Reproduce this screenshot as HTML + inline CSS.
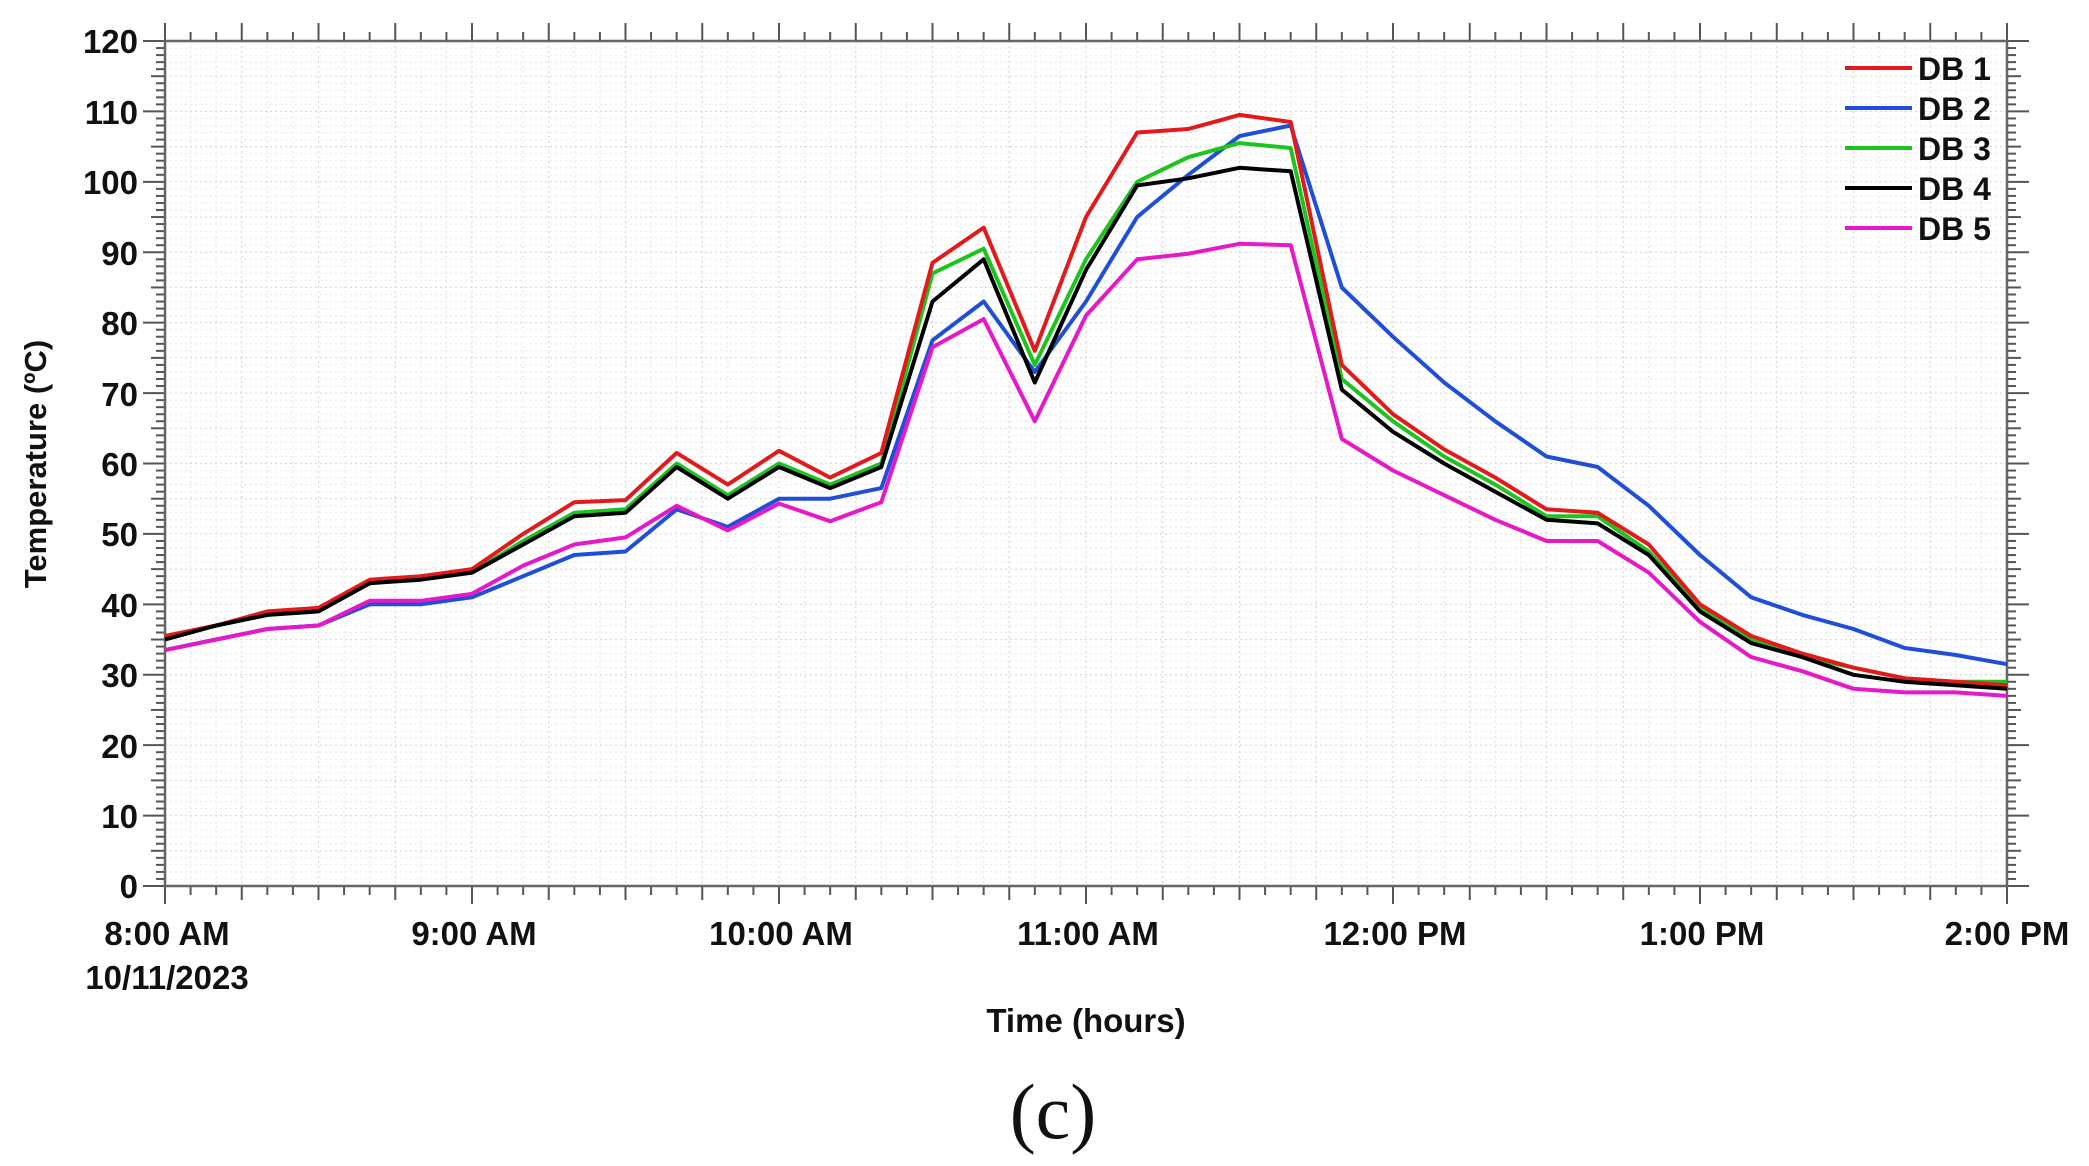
<!DOCTYPE html>
<html><head><meta charset="utf-8"><style>
html,body{margin:0;padding:0;background:#fff;}
svg{display:block;}
text{font-family:"Liberation Sans",Arial,sans-serif;font-weight:bold;fill:#111;}
</style></head><body>
<svg id="s" width="2089" height="1166" viewBox="0 0 2089 1166" xmlns="http://www.w3.org/2000/svg">
<rect width="2089" height="1166" fill="#fff"/>
<g id="grid"></g>
<g id="ticks" stroke="#555" stroke-width="2"></g>
<rect x="165" y="41" width="1842" height="845" fill="none" stroke="#666" stroke-width="2.5"/>
<g id="series" fill="none" stroke-width="4" stroke-linejoin="round"></g>
<g font-size="33" text-anchor="end">
<text x="138" y="53">120</text><text x="138" y="124">110</text><text x="138" y="194">100</text>
<text x="138" y="265">90</text><text x="138" y="335">80</text><text x="138" y="406">70</text>
<text x="138" y="476">60</text><text x="138" y="546">50</text><text x="138" y="617">40</text>
<text x="138" y="687">30</text><text x="138" y="758">20</text><text x="138" y="828">10</text>
<text x="138" y="898">0</text>
</g>
<g font-size="33" text-anchor="middle">
<text x="167" y="945">8:00 AM</text>
<text x="167" y="989">10/11/2023</text>
<text x="474" y="945">9:00 AM</text>
<text x="781" y="945">10:00 AM</text>
<text x="1088" y="945">11:00 AM</text>
<text x="1395" y="945">12:00 PM</text>
<text x="1702" y="945">1:00 PM</text>
<text x="2007" y="945">2:00 PM</text>
<text x="1086" y="1032">Time (hours)</text>
</g>
<text transform="translate(46,464) rotate(-90)" font-size="31" text-anchor="middle">Temperature (ºC)</text>
<text x="1053" y="1138" font-size="78" text-anchor="middle" style="font-family:'Liberation Serif',serif;font-weight:normal">(c)</text>
<g stroke-width="4">
<line x1="1845" y1="68" x2="1912" y2="68" stroke="#e31a1c"/>
<line x1="1845" y1="108" x2="1912" y2="108" stroke="#1f4fd6"/>
<line x1="1845" y1="148" x2="1912" y2="148" stroke="#1ec41e"/>
<line x1="1845" y1="188" x2="1912" y2="188" stroke="#000"/>
<line x1="1845" y1="228" x2="1912" y2="228" stroke="#e619c8"/>
</g>
<g font-size="32">
<text x="1918" y="80">DB 1</text><text x="1918" y="120">DB 2</text><text x="1918" y="160">DB 3</text>
<text x="1918" y="200">DB 4</text><text x="1918" y="240">DB 5</text>
</g>
</svg>
<script>
const NS="http://www.w3.org/2000/svg";
const L=165,R=2007,T=41,B=886;
const X=m=>L+(R-L)*m/360, Y=v=>B-(B-T)*v/120;
function el(p,tag,a){const e=document.createElementNS(NS,tag);for(const k in a)e.setAttribute(k,a[k]);p.appendChild(e);return e;}
const g=document.getElementById('grid'),t=document.getElementById('ticks');
for(let m=5;m<360;m+=5){el(g,'line',{x1:X(m),x2:X(m),y1:T,y2:B,stroke:m%15==0?'#d8d8d8':'#e8e8e8','stroke-width':1.2,'stroke-dasharray':'2 3'});}
for(let v=1;v<120;v++){el(g,'line',{x1:L,x2:R,y1:Y(v),y2:Y(v),stroke:v%5==0?'#d8d8d8':'#ececec','stroke-width':1.2,'stroke-dasharray':'2 3'});}
for(let m=0;m<=360;m+=5){const big=m%15==0,hr=m%60==0;
 el(t,'line',{x1:X(m),x2:X(m),y1:B,y2:B+(hr?18:big?14:9)});
 el(t,'line',{x1:X(m),x2:X(m),y1:T,y2:T-(big?18:9)});}
for(let v=0;v<=120;v++){const len=v%10==0?22:v%5==0?14:9;
 el(t,'line',{x1:L,x2:L-len,y1:Y(v),y2:Y(v)});
 el(t,'line',{x1:R,x2:R+len,y1:Y(v),y2:Y(v)});}
const D={
'#1f4fd6':[33.5,35,36.5,37,40,40,41,44,47,47.5,53.5,51,55,55,56.5,77.5,83,73,83,95,101,106.5,108,85,78,71.5,66,61,59.5,54,47,41,38.5,36.5,33.8,32.8,31.5],
'#1ec41e':[35,37,38.5,39,43,44,44.5,49,53,53.5,60,55.5,60,57,60,87,90.5,74,89,100,103.5,105.5,104.8,72,66,61,57,52.5,52.5,47.5,39.5,35,32.5,31,29.5,29,29],
'#e31a1c':[35.5,37,39,39.5,43.5,44,45,50,54.5,54.8,61.5,57,61.8,58,61.5,88.5,93.5,76,95,107,107.5,109.5,108.5,74,67,62,58,53.5,53,48.5,40,35.5,33,31,29.5,29,28.5],
'#e619c8':[33.5,35,36.5,37,40.5,40.5,41.5,45.5,48.5,49.5,54,50.5,54.3,51.8,54.5,76.5,80.5,66,81,89,89.8,91.2,91,63.5,59,55.5,52,49,49,44.5,37.5,32.5,30.5,28,27.5,27.5,27],
'#000':[35,37,38.5,39,43,43.5,44.5,48.5,52.5,53,59.5,55,59.5,56.5,59.5,83,89,71.5,87.5,99.5,100.5,102,101.5,70.5,64.5,60,56,52,51.5,47,39,34.5,32.5,30,29,28.5,28]};
const s=document.getElementById('series');
for(const c in D){el(s,'polyline',{stroke:c,points:D[c].map((v,i)=>X(i*10).toFixed(1)+','+Y(v).toFixed(1)).join(' ')});}
</script>
</body></html>
